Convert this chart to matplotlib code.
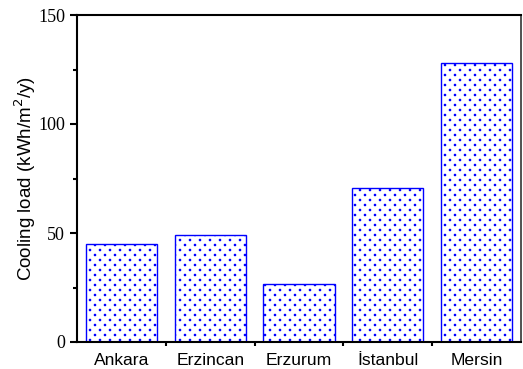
import numpy as np
import matplotlib
matplotlib.use("Agg")
import matplotlib.pyplot as plt
import matplotlib.hatch as mhatch
from matplotlib.path import Path
from matplotlib.ticker import MultipleLocator, FixedLocator

cities = ["Ankara", "Erzincan", "Erzurum", "İstanbul", "Mersin"]
cooling = [45, 49, 26.5, 70.5, 128]


class StaggeredDots(mhatch.HatchPatternBase):
    """Small filled dots, 10 per row, rows at half spacing, odd rows shifted."""
    per_row = 10
    radius = 0.006

    def __init__(self, hatch, density):
        circle = Path.unit_circle()
        self.shape_vertices = circle.vertices * self.radius
        self.shape_codes = circle.codes
        self.centers = []
        if ':' in hatch:
            n = self.per_row
            for r in range(2 * n + 1):
                y = r / (2 * n)
                if r % 2 == 0:
                    xs = np.arange(n + 1) / n
                else:
                    xs = (np.arange(n) + 0.5) / n
                self.centers += [(xx, y) for xx in xs]
        self.num_vertices = len(self.centers) * len(self.shape_vertices)

    def set_vertices_and_codes(self, vertices, codes):
        k = len(self.shape_vertices)
        for i, c in enumerate(self.centers):
            vertices[i * k:(i + 1) * k] = self.shape_vertices + c
            codes[i * k:(i + 1) * k] = self.shape_codes


mhatch._hatch_types.append(StaggeredDots)

plt.rcParams['hatch.color'] = 'blue'
plt.rcParams['hatch.linewidth'] = 1.0

fig = plt.figure(figsize=(5.23, 3.69), dpi=100)
ax = fig.add_axes([77/523, 1 - 342/369, (521-77)/523, (342-15)/369])

x = np.arange(len(cities))
ax.bar(x, cooling, width=0.8, facecolor='white', edgecolor='blue',
       linewidth=1.0, hatch=':')

ax.set_xlim(-0.5, 4.5)
ax.set_ylim(0, 150)

ax.set_xticks(x)
ax.set_xticklabels(cities, fontfamily='Liberation Sans', fontsize=12.6)
ax.tick_params(axis='x', which='major', length=0, pad=8)
ax.xaxis.set_minor_locator(FixedLocator(x[:-1] + 0.5))
ax.tick_params(axis='x', which='minor', length=3, width=1.5, direction='out')

ax.yaxis.set_major_locator(MultipleLocator(50))
ax.yaxis.set_minor_locator(MultipleLocator(25))
ax.tick_params(axis='y', which='major', length=5, width=1.5, direction='out')
ax.tick_params(axis='y', which='minor', length=3, width=1.5, direction='out')
for lbl in ax.get_yticklabels():
    lbl.set_fontfamily('Liberation Serif')
    lbl.set_fontsize(13)

ax.set_ylabel("Cooling load (kWh/m$^2$/y)", fontfamily='Liberation Sans',
              fontsize=13.5, labelpad=0)

for side in ['left', 'bottom', 'top']:
    ax.spines[side].set_linewidth(1.5)
ax.spines['right'].set_linewidth(1.2)
ax.spines['right'].set_color('#333333')

fig.savefig("out.png", dpi=100)
